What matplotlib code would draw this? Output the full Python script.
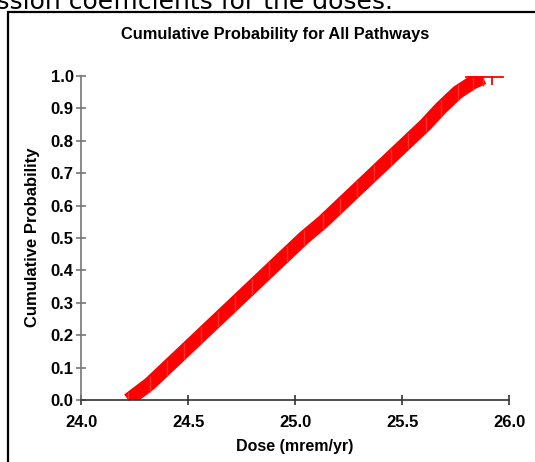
import matplotlib
matplotlib.use("Agg")
import matplotlib.pyplot as plt
from matplotlib.patches import Rectangle

# Data (cumulative probability vs dose)
dose = [24.22, 24.32, 24.40, 24.48, 24.56, 24.64, 24.72, 24.80, 24.88, 24.96,
        25.04, 25.13, 25.21, 25.29, 25.37, 25.45, 25.53, 25.61, 25.68, 25.76,
        25.83, 25.88]
cum_prob = [0.00, 0.05, 0.10, 0.15, 0.20, 0.25, 0.30, 0.35, 0.40, 0.45,
            0.50, 0.55, 0.60, 0.65, 0.70, 0.75, 0.80, 0.85, 0.90, 0.95,
            0.98, 0.995]
top_dose = [25.80, 25.97]
top_prob = [0.997, 0.997]
tail_dose = [25.92, 25.92]
tail_prob = [0.975, 0.997]

x_ticks = [24.0, 24.5, 25.0, 25.5, 26.0]
y_ticks = [0.0, 0.1, 0.2, 0.3, 0.4, 0.5, 0.6, 0.7, 0.8, 0.9, 1.0]

title = "Cumulative Probability for All Pathways"
xlabel = "Dose (mrem/yr)"
ylabel = "Cumulative Probability"
doc_text = "regression coefficients for the doses."

W, H = 535, 462
fig = plt.figure(figsize=(W / 100, H / 100), dpi=100)
fig.patch.set_facecolor("white")

font = "Liberation Sans"

# document text above the chart (cut off by the screenshot, as in the reference)
fig.text(393 / W, 1 - 8.5 / H, doc_text, ha="right", va="baseline",
         fontsize=18, family="DejaVu Sans", color="black")

# chart border
fig.patches.append(Rectangle((8 / W, -0.1), 1.2, 1 - 12 / H + 0.1,
                             transform=fig.transFigure, fill=False,
                             edgecolor="black", linewidth=1.6))

ax = fig.add_axes([81.3 / W, 1 - 400 / H, (509 - 81.3) / W, (400 - 76) / H])
ax.set_xlim(24.0, 26.0)
ax.set_ylim(0.0, 1.0)

ax.plot(dose, cum_prob, color="#ff0000", linewidth=10, solid_capstyle="butt",
        solid_joinstyle="round", zorder=3)
ax.plot(dose, cum_prob, color="#ff3030", linestyle="none",
        marker="|", markersize=12, markeredgewidth=1.0, zorder=3)
ax.plot(top_dose, top_prob, color="#ff0000", linewidth=1.3, zorder=3, clip_on=False)
ax.plot(tail_dose, tail_prob, color="#ff0000", linewidth=1.3, zorder=3)

ax.set_xticks(x_ticks)
ax.set_yticks(y_ticks)
ax.set_xticklabels([f"{v:.1f}" for v in x_ticks], fontsize=12, fontweight="bold", family=font)
ax.set_yticklabels([f"{v:.1f}" for v in y_ticks], fontsize=12, fontweight="bold", family=font)

for s in ["top", "right"]:
    ax.spines[s].set_visible(False)
ax.spines["left"].set_color("#777777")
ax.spines["bottom"].set_color("#333333")
ax.spines["left"].set_linewidth(1.2)
ax.spines["bottom"].set_linewidth(1.2)
ax.spines["bottom"].set_zorder(4)
ax.tick_params(axis="y", direction="inout", length=7, width=1.2, color="#777777", pad=2)
ax.tick_params(axis="x", direction="inout", length=7, width=1.2, color="#333333", pad=7)

fig.text(275 / W, 1 - 34 / H, title, ha="center", va="center",
         fontsize=11.8, fontweight="bold", family=font)
fig.text(295 / W, 1 - 446 / H, xlabel, ha="center", va="center",
         fontsize=11.5, fontweight="bold", family=font)
fig.text(33 / W, 1 - 237 / H, ylabel, ha="center", va="center", rotation=90,
         fontsize=12, fontweight="bold", family=font)

fig.savefig("out.png", dpi=100, facecolor="white")
